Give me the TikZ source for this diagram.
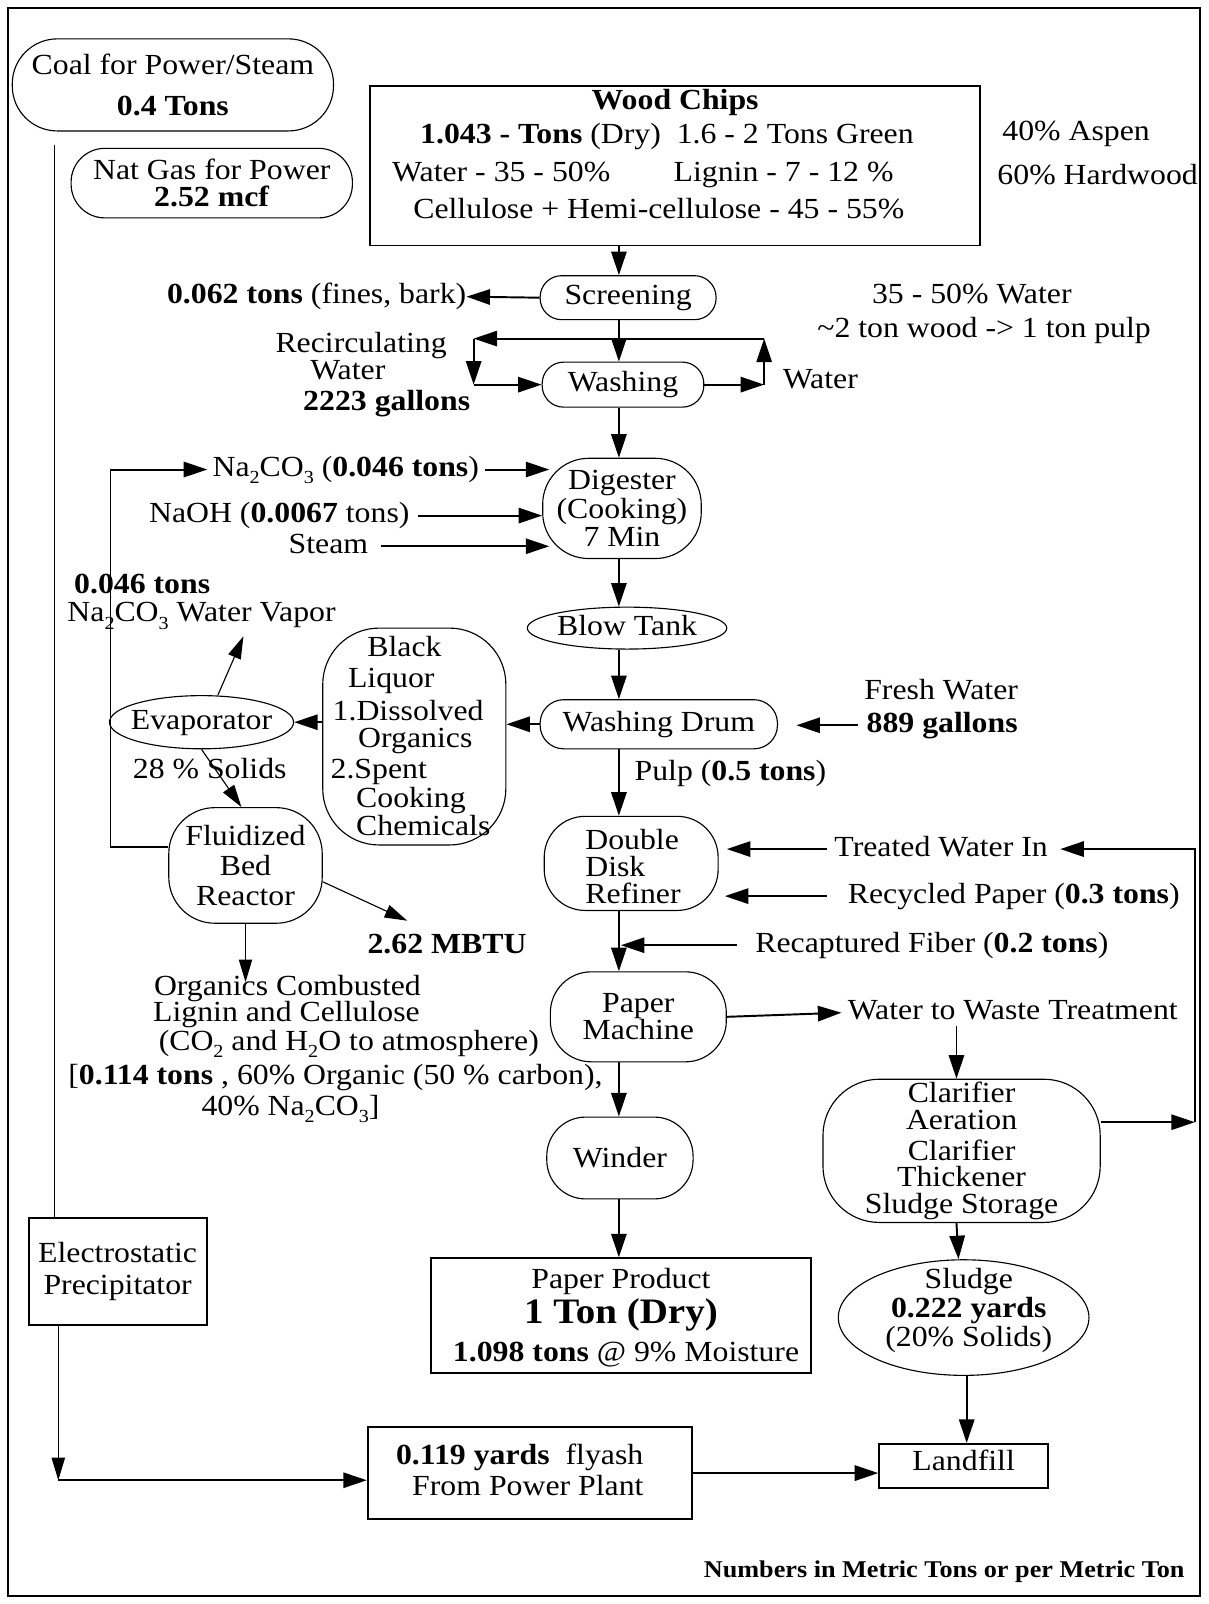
\documentclass[tikz,border=0pt]{standalone}
\usepackage{fontspec}
\setmainfont{Liberation Serif}[FakeStretch=1.09]
\usetikzlibrary{arrows.meta,shapes.geometric}
\newcommand\fsz[2]{\fontsize{#1}{#2}\selectfont}
\newcommand\subx[1]{\raisebox{-0.25em}{\fsz{18}{18}#1}}
\tikzset{
 shp/.style={draw, line width=1.1pt, inner sep=0pt, align=center},
 stad/.style={shp, rounded corners=#1},
 rbox/.style={draw, line width=1.9pt, inner sep=0pt, align=center},
 oval/.style={shp, ellipse},
 txt/.style={inner sep=0pt, align=center},
 ltxt/.style={inner sep=0pt, text height=20pt, text depth=6pt},
 arr/.style={line width=1.9pt, -{Triangle[length=23pt,width=15pt]}},
 tarr/.style={line width=1.1pt, -{Triangle[length=22pt,width=13pt]}},
 tln/.style={line width=1.1pt},
}
\begin{document}
\begin{tikzpicture}[x=1pt,y=-1pt,font=\fsz{28.5}{28}]
\useasboundingbox (0,0) rectangle (1181,1568);
\draw[line width=2pt] (8,8) rectangle (1173,1560);
\coordinate (col) at (605,0);

% top inputs
\node[stad=44pt, minimum width=314pt, minimum height=90pt] (coal) at (169,83) {Coal for Power/Steam\\[12pt]\textbf{0.4 Tons}};
\node[stad=33pt, minimum width=275pt, minimum height=68pt, font=\fsz{28.5}{26}] (natgas) at (207,179) {Nat Gas for Power\\\textbf{2.52 mcf}};

\node[rbox, minimum width=596pt, minimum height=156pt] (wood) at (660,162) {};
\node[ltxt] (w1) at (660,100) {\textbf{Wood Chips}};
\node[ltxt] (w2) at (652,133) {\textbf{1.043 - Tons} (Dry)\ \ 1.6 - 2 Tons Green};
\node[ltxt] (w3) at (490,170) {Water - 35 - 50\%};
\node[ltxt] (w4) at (766,170) {Lignin - 7 - 12 \%};
\node[ltxt] (w5) at (644,207) {Cellulose + Hemi-cellulose - 45 - 55\%};
\node[ltxt] (aspen) at (1052,130) {40\% Aspen};
\node[ltxt] (hardwood) at (1073,173) {60\% Hardwood};

% screening / washing
\node[stad=21pt, minimum width=172pt, minimum height=43pt] (screen) at (614,291) {Screening};
\node[ltxt, anchor=east] (fines) at (456,290) {\textbf{0.062 tons} (fines, bark)};
\node[ltxt] (w35) at (950,290) {35 - 50\% Water};
\node[ltxt] (ton2) at (962,323) {\textasciitilde 2 ton wood -> 1 ton pulp};
\node[stad=21pt, minimum width=158pt, minimum height=44pt] (wash) at (609,376) {Washing};
\node[ltxt, anchor=west] (waterr) at (765,373) {Water};
\node[ltxt] (rc1) at (353,338) {Recirculating};
\node[ltxt] (rc2) at (340,364) {Water};
\node[ltxt] (rc3) at (378,394) {\textbf{2223 gallons}};
\coordinate (lp1) at (747,376);
\coordinate (lp2) at (747,331);
\coordinate (lp3) at (463,331);
\coordinate (lp4) at (463,376);

% digester
\node[stad=45pt, minimum width=155pt, minimum height=98pt] (dig) at (608,497) {Digester\\(Cooking)\\7 Min};
\node[ltxt] (na) at (338,459) {Na\subx{2}CO\subx{3} (\textbf{0.046 tons})};
\node[ltxt] (naoh) at (273,504) {NaOH (\textbf{0.0067} tons)};
\node[ltxt] (steam) at (321,534) {Steam};
\node[ltxt] (wv1) at (139,573) {\textbf{0.046 tons}};
\node[ltxt] (wv2) at (197,601) {Na\subx{2}CO\subx{3} Water Vapor};

\node[oval, minimum width=195pt, minimum height=41pt] (blow) at (613,614) {};
\node[ltxt] (blowt) at (613,614) {Blow Tank};
\node[stad=23pt, minimum width=232pt, minimum height=48pt] (drum) at (644,708) {Washing Drum};
\node[ltxt] (fw1) at (920,677) {Fresh Water};
\node[ltxt] (fw2) at (921,709) {\textbf{889 gallons}};

% black liquor
\node[stad=55pt, minimum width=179pt, minimum height=212pt] (bl) at (405,720) {};
\node[ltxt, anchor=west] (bl1) at (359,635) {Black};
\node[ltxt, anchor=west] (bl2) at (340,665) {Liquor};
\node[ltxt, anchor=west] (bl3) at (325,697) {1.Dissolved};
\node[ltxt, anchor=west] (bl4) at (350,724) {Organics};
\node[ltxt, anchor=west] (bl5) at (323,754) {2.Spent};
\node[ltxt, anchor=west] (bl6) at (348,782) {Cooking};
\node[ltxt, anchor=west] (bl7) at (348,810) {Chemicals};

\node[oval, minimum width=180pt, minimum height=52pt] (evap) at (197,706) {};
\node[ltxt] (evapt) at (197,706) {Evaporator};
\node[ltxt] (sol) at (205,754) {28 \% Solids};
\coordinate (vapin) at (238,622);

\node[stad=45pt, minimum width=150pt, minimum height=113pt, font=\fsz{28.5}{29}] (fbr) at (240,846) {Fluidized\\Bed\\Reactor};
\coordinate (fb1) at (108,828);
\coordinate (fb2) at (108,459);
\node[ltxt] (mbtu) at (437,925) {\textbf{2.62 MBTU}};
\coordinate (mbtuin) at (398,900);
\coordinate (orgin) at (240,960);
\node[ltxt] (o1) at (281,966) {Organics Combusted};
\node[ltxt] (o2) at (280,992) {Lignin and Cellulose};
\node[ltxt] (o3) at (341,1020) {(CO\subx{2} and H\subx{2}O to atmosphere)};
\node[ltxt] (o4) at (328,1053) {[\textbf{0.114 tons} , 60\% Organic (50 \% carbon),};
\node[ltxt] (o5) at (284,1083) {40\% Na\subx{2}CO\subx{3}]};

% refiner
\node[ltxt] (pulp) at (714,756) {Pulp (\textbf{0.5 tons})};
\node[stad=40pt, minimum width=170pt, minimum height=92pt] (ddr) at (617,844) {};
\node[txt, anchor=west, align=left, font=\fsz{28.5}{26}] (ddrt) at (572,847) {Double\\Disk\\Refiner};
\node[ltxt] (treated) at (920,830) {Treated Water In};
\node[ltxt] (recyc) at (991,876) {Recycled Paper (\textbf{0.3 tons})};
\node[ltxt] (recap) at (911,924) {Recaptured Fiber (\textbf{0.2 tons})};

\node[stad=40pt, minimum width=172pt, minimum height=88pt, font=\fsz{28.5}{26}] (papm) at (624,994) {Paper\\Machine};
\node[ltxt] (wwt) at (990,990) {Water to Waste Treatment};
\node[stad=55pt, minimum width=271pt, minimum height=140pt, font=\fsz{28.5}{26}] (clar) at (940,1125) {Clarifier\\Aeration\\[4pt]Clarifier\\Thickener\\Sludge Storage};
\coordinate (rl1) at (1168,1097);
\coordinate (rl2) at (1168,830);
\node[oval, minimum width=245pt, minimum height=113pt] (sludge) at (942,1288) {};
\node[txt, font=\fsz{28.5}{28}] (sludget) at (947,1281) {Sludge\\\textbf{0.222 yards}\\(20\% Solids)};
\node[rbox, minimum width=165pt, minimum height=43pt] (land) at (942,1433) {};
\node[ltxt] (landt) at (942,1430) {Landfill};

\node[stad=38pt, minimum width=143pt, minimum height=80pt] (wind) at (606,1132) {Winder};
\node[rbox, minimum width=372pt, minimum height=112pt] (pp) at (607,1286) {};
\node[ltxt] (pp1) at (607,1253) {Paper Product};
\node[txt, font=\fsz{35}{35}] (pp2) at (607,1285) {\textbf{1 Ton (Dry)}};
\node[ltxt] (pp3) at (612,1324) {\textbf{1.098 tons} @ 9\% Moisture};

\node[rbox, minimum width=317pt, minimum height=90pt] (fly) at (518,1440) {};
\node[ltxt] (fly1) at (508,1425) {\textbf{0.119 yards}\ \ flyash};
\node[ltxt] (fly2) at (516,1455) {From Power Plant};

\node[rbox, minimum width=174pt, minimum height=105pt, font=\fsz{28.5}{32}] (esp) at (115,1243) {Electrostatic\\Precipitator};
\coordinate (cl0) at (53,142);
\coordinate (cl1) at (57,1447);

\node[ltxt, font=\fsz{23.5}{24}] (note) at (923,1535) {\textbf{Numbers in Metric Tons or per Metric Ton}};

% main column
\draw[arr] (wood.south -| col) -- (screen.north -| col);
\draw[arr] (screen.south -| col) -- (wash.north -| col);
\draw[arr] (wash.south -| col) -- (dig.north -| col);
\draw[arr] (dig.south -| col) -- (blow.north -| col);
\draw[arr] (blow.south -| col) -- (drum.north -| col);
\draw[arr] (drum.south -| col) -- (ddr.north -| col);
\draw[arr] (ddr.south -| col) -- (papm.north -| col);
\draw[arr] (papm.south -| col) -- (wind.north -| col);
\draw[arr] (wind.south -| col) -- (pp.north -| col);

% side connectors
\draw[arr] (screen.west) -- (fines.east);
\draw[arr] (wash.east) -- (lp1);
\draw[arr] (lp1) -- (lp2);
\draw[arr] (lp2) -- (lp3);
\draw[arr] (lp3) -- (lp4);
\draw[arr] (lp4) -- (wash.west);
\draw[arr] ([xshift=6pt]na.east) -- ([xshift=7pt]na.east -| dig.west);
\draw[arr] ([xshift=8pt]naoh.east) -- (naoh.east -| dig.west);
\draw[arr] ([xshift=12pt]steam.east) -- ([xshift=7pt]steam.east -| dig.west);
\draw[arr] ([xshift=-8pt]fw2.west) -- ([xshift=18pt]fw2.west -| drum.east);
\draw[arr] (drum.west) -- (drum.west -| bl.east);
\draw[arr] (evap.east -| bl.west) -- (evap.east);
\draw[tarr] ([xshift=16pt]evap.north) -- (vapin);
\draw[tarr] (evap.south) -- ([xshift=-4pt]fbr.north);
\draw[arr] (fb1 -| fbr.west) -- (fb1) -- (fb2) -- ([xshift=-5pt]na.west);
\draw[tarr] ([yshift=-16pt]fbr.east) -- (mbtuin);
\draw[tarr] (fbr.south) -- (orgin);
\draw[arr] ([xshift=-7pt]treated.west) -- ([xshift=8pt]treated.west -| ddr.east);
\draw[arr] ([xshift=-20pt]recyc.west) -- ([xshift=6pt]recyc.west -| ddr.east);
\draw[arr] ([xshift=-18pt]recap.west) -- ([xshift=2pt]recap.west -| col);
\draw[arr] (papm.east) -- ([xshift=-6pt]wwt.west);
\draw[arr] ([xshift=-5pt]wwt.south -| clar.north) -- ([xshift=-5pt]clar.north);
\draw[arr] (rl1 -| clar.east) -- (rl1);
\draw[arr] (rl1) -- (rl2) -- ([xshift=12pt]treated.east);
\draw[arr] ([xshift=-5pt]clar.south) -- ([xshift=-5pt]sludge.north);
\draw[arr] ([xshift=3pt]sludge.south) -- ([xshift=3pt]land.north);
\draw[arr] (fly.east) -- (fly.east -| land.west);
\draw[tln] (cl0) -- (cl0 |- esp.north);
\draw[tarr] (cl1 |- esp.south) -- (cl1);
\draw[arr] (cl1) -- (cl1 -| fly.west);
\end{tikzpicture}
\end{document}
